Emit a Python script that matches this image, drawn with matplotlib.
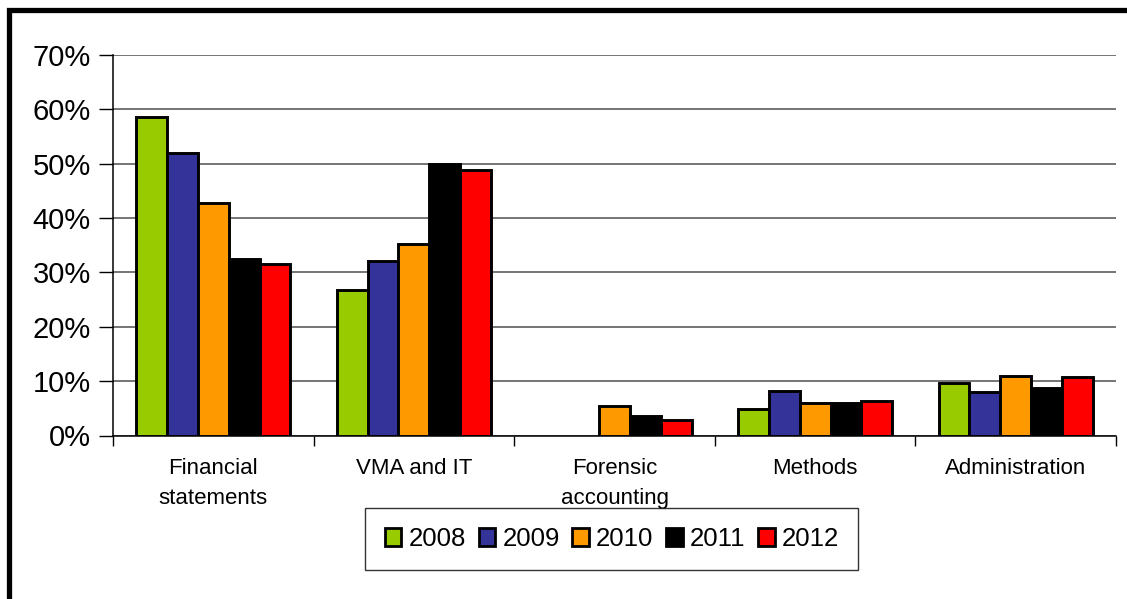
import numpy as np
import matplotlib.pyplot as plt
from matplotlib.patches import Rectangle

plt.rcParams['font.family'] = ['Liberation Sans', 'DejaVu Sans']

# Share of cases per area, by year (percent)
categories = ['Financial\nstatements', 'VMA and IT', 'Forensic\naccounting', 'Methods', 'Administration']
years = ['2008', '2009', '2010', '2011', '2012']
share_2008 = [58.6, 26.8, 0.0, 4.9, 9.7]
share_2009 = [51.9, 32.1, 0.0, 8.1, 8.0]
share_2010 = [42.7, 35.2, 5.4, 6.0, 10.9]
share_2011 = [32.4, 49.9, 3.6, 5.9, 8.8]
share_2012 = [31.5, 48.8, 2.8, 6.3, 10.8]
series = [share_2008, share_2009, share_2010, share_2011, share_2012]
colors = ['#99CC00', '#333399', '#FF9900', '#000000', '#FF0000']

W, H = 1127, 599
fig = plt.figure(figsize=(W / 100, H / 100), dpi=100)
ax = fig.add_axes([113 / W, 1 - 435.5 / H, 1003 / W, 380.5 / H])

n = len(series)
bw = 1 / 6.5
centers = np.arange(len(categories)) + 0.5
for j, (vals, yr, c) in enumerate(zip(series, years, colors)):
	x = centers + (j - (n - 1) / 2) * bw
	vals = np.array(vals)
	ax.bar(x[vals > 0], vals[vals > 0], width=bw, color=c, edgecolor='black',
	       linewidth=2.1, label=yr, zorder=3)

ax.set_xlim(0, len(categories))
ax.set_ylim(0, 70)
ax.set_yticks(np.arange(0, 71, 10))
ax.set_yticklabels([f'{v}%' for v in range(0, 71, 10)], fontsize=21)
ax.yaxis.grid(True, color='#505050', linewidth=1.1, zorder=0)
ax.set_axisbelow(True)

# boundary ticks on the x axis, category names at the centers
ax.set_xticks(np.arange(len(categories) + 1))
ax.set_xticklabels([])
ax.set_xticks(centers, minor=True)
ax.set_xticklabels(categories, minor=True, fontsize=16, linespacing=1.6)
ax.tick_params(axis='x', which='major', direction='out', length=7, width=1, color='black')
ax.tick_params(axis='x', which='minor', length=0, pad=16)
ax.tick_params(axis='y', direction='out', length=10, width=1, color='black', pad=6)

for side in ['top', 'right']:
	ax.spines[side].set_visible(False)
for side in ['left', 'bottom']:
	ax.spines[side].set_color('black')
	ax.spines[side].set_linewidth(1.1)

leg = fig.legend(loc='center', bbox_to_anchor=(612 / W, 1 - 539 / H), ncol=5,
                 fontsize=18.5, frameon=True, fancybox=False, handlelength=0.65,
                 handleheight=0.65, handletextpad=0.27, columnspacing=0.5,
                 borderpad=0.75, borderaxespad=0)
leg.get_frame().set_edgecolor('black')
leg.get_frame().set_linewidth(1.0)
for h in leg.legend_handles:
	h.set_linewidth(2.0)

# thick outer frame, only left and top edges fall inside the canvas
fig.patches.append(Rectangle((8.5 / W, -0.2), 1.3, 1.2 - 10.5 / H, transform=fig.transFigure,
                             fill=False, edgecolor='black', linewidth=3.8))

fig.savefig('out.png', dpi=100)
